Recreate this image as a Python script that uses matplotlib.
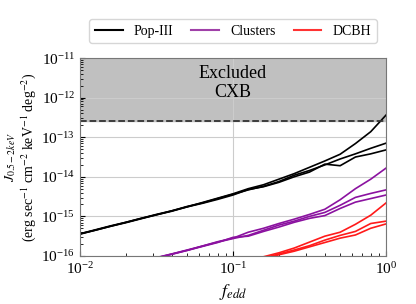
import numpy as np
import matplotlib
matplotlib.use("Agg")
import matplotlib.pyplot as plt

plt.rcParams['font.family'] = ['Liberation Serif', 'DejaVu Serif']
plt.rcParams['mathtext.fontset'] = 'stix'

# ========== data (log10 values) ==========
log_fedd = [-2.0, -1.9, -1.8, -1.7, -1.6, -1.5, -1.4, -1.3, -1.2, -1.1, -1.0,
            -0.9, -0.8, -0.7, -0.6, -0.5, -0.4, -0.3, -0.2, -0.1, 0.0]

pop3_a = [-15.44, -15.34, -15.24, -15.15, -15.05, -14.95, -14.86, -14.76, -14.65, -14.54, -14.43,
          -14.30, -14.20, -14.06, -13.92, -13.76, -13.60, -13.43, -13.16, -12.86, -12.44]
pop3_b = [-15.44, -15.35, -15.25, -15.15, -15.05, -14.96, -14.86, -14.75, -14.66, -14.55, -14.44,
          -14.33, -14.24, -14.12, -13.96, -13.84, -13.70, -13.55, -13.42, -13.28, -13.15]
pop3_c = [-15.45, -15.35, -15.25, -15.16, -15.06, -14.96, -14.87, -14.76, -14.67, -14.57, -14.46,
          -14.32, -14.25, -14.14, -14.00, -13.88, -13.68, -13.72, -13.50, -13.42, -13.32]

clus_a = [-16.52, -16.42, -16.33, -16.23, -16.13, -16.04, -15.95, -15.85, -15.75, -15.64, -15.55,
          -15.40, -15.30, -15.18, -15.07, -14.95, -14.82, -14.58, -14.30, -14.06, -13.78]
clus_b = [-16.53, -16.43, -16.34, -16.24, -16.14, -16.05, -15.95, -15.86, -15.75, -15.65, -15.56,
          -15.48, -15.35, -15.22, -15.12, -15.00, -14.90, -14.72, -14.52, -14.42, -14.33]
clus_c = [-16.53, -16.44, -16.34, -16.24, -16.15, -16.05, -15.96, -15.86, -15.76, -15.66, -15.53,
          -15.50, -15.38, -15.27, -15.15, -15.05, -14.98, -14.80, -14.64, -14.55, -14.46]

dcbh_a = [-17.30, -17.20, -17.10, -17.00, -16.90, -16.70, -16.55, -16.43, -16.32, -16.22, -16.12,
          -16.08, -16.02, -15.92, -15.80, -15.65, -15.50, -15.40, -15.20, -14.97, -14.66]
dcbh_b = [-17.30, -17.20, -17.10, -17.00, -16.90, -16.75, -16.60, -16.48, -16.36, -16.25, -16.15,
          -16.10, -16.05, -15.95, -15.85, -15.74, -15.60, -15.48, -15.38, -15.18, -15.12]
dcbh_c = [-17.30, -17.20, -17.10, -17.00, -16.90, -16.78, -16.62, -16.50, -16.38, -16.28, -16.18,
          -16.13, -16.08, -15.97, -15.88, -15.77, -15.66, -15.55, -15.47, -15.30, -15.19]

cxb_limit = 2.57e-13
# ==============================================================

fedd = 10 ** np.array(log_fedd)

fig = plt.figure(figsize=(4.16, 3.04), dpi=100)
ax = fig.add_axes([0.192, 0.158, 0.736, 0.651])

for vals in (pop3_a, pop3_b, pop3_c):
    ax.plot(fedd, 10 ** np.array(vals), color='black', lw=1.2)
for vals in (clus_a, clus_b, clus_c):
    ax.plot(fedd, 10 ** np.array(vals), color='#8b12a0', lw=1.2)
for vals in (dcbh_a, dcbh_b, dcbh_c):
    ax.plot(fedd, 10 ** np.array(vals), color='#ff1a1a', lw=1.2)

ax.fill_between([1e-2, 1], cxb_limit, 1e-11, color='#c0c0c0', zorder=0)
ax.axhline(cxb_limit, color='#333333', ls='--', lw=1.3)
ax.text(0.1, 10 ** -11.17, "Excluded\nCXB", ha='center', va='top', fontsize=13, linespacing=1.15)

ax.set_xscale('log')
ax.set_yscale('log')
ax.set_xlim(1e-2, 1)
ax.set_ylim(1e-16, 1e-11)
ax.grid(True, which='major', color='#cccccc', lw=0.8)
ax.tick_params(which='both', direction='in', labelsize=11)
for s in ax.spines.values():
    s.set_color('#777777')

ax.set_xlabel(r"$f_{edd}$", fontsize=13)
ax.set_ylabel(r"$J_{0.5-2keV}$" + "\n" + r"(erg sec$^{-1}$ cm$^{-2}$ keV$^{-1}$ deg$^{-2}$)",
              fontsize=10, linespacing=1.1)
ax.yaxis.set_label_coords(-0.137, 0.5)

handles = [plt.Line2D([], [], color='black', lw=1.5),
           plt.Line2D([], [], color='#a040a8', lw=1.5),
           plt.Line2D([], [], color='#ff3333', lw=1.5)]
ax.legend(handles, ['Pop-III', 'Clusters', 'DCBH'], ncol=3, loc='lower center',
          bbox_to_anchor=(0.5, 1.075), borderaxespad=0, fontsize=10,
          handlelength=2.0, columnspacing=1.3)

fig.savefig('out.png', dpi=100)
